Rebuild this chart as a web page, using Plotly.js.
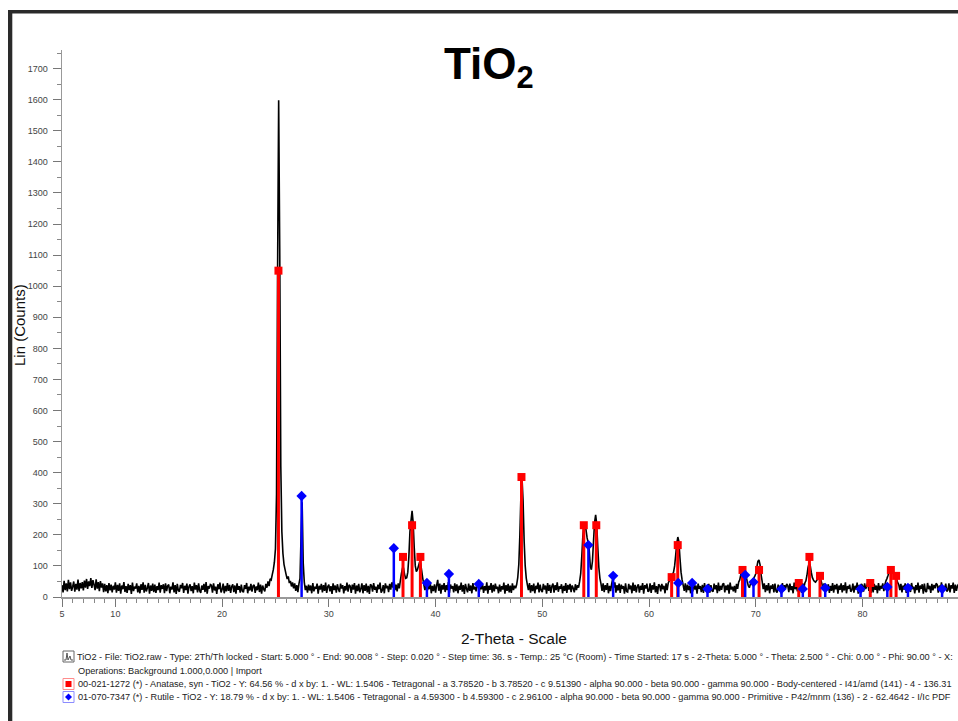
<!DOCTYPE html>
<html>
<head>
<meta charset="utf-8">
<script src="https://cdn.plot.ly/plotly-3.0.1.min.js"></script>
<style>html,body{margin:0;padding:0;background:#fff;}#chart{width:958px;height:721px;}</style>
</head>
<body>
<div id="chart"></div>
<script>
// ---- Data ----
const twoThetaStart = 5.0;   // degrees
const twoThetaStep = 0.1;    // sampling used here
// Lin (Counts), one row per degree (x.0 ... x.9), from 5.0 to 89.1
const counts = [
 38,15,52,22,44,18,55,25,47,20,
 33,50,17,42,24,56,19,45,28,48,
 21,53,30,58,26,50,35,61,29,54,
 40,22,57,27,48,19,51,30,44,16,
 42,18,38,12,45,21,40,15,36,24,
 47,14,39,20,44,11,37,25,48,16,
 35,13,42,22,38,10,46,19,33,27,
 44,15,36,12,41,23,47,14,39,18,
 30,45,11,37,20,43,16,40,13,35,
 22,46,14,38,26,41,12,44,19,36,
 40,12,33,24,47,15,38,10,42,21,
 17,39,28,45,13,36,22,43,11,34,
 41,19,35,12,46,24,38,15,44,20,
 13,37,23,42,16,48,11,35,27,40,
 38,14,44,21,33,10,41,25,46,15,
 24,43,12,36,18,45,20,39,13,34,
 41,16,37,11,44,23,35,14,40,19,
 15,38,26,45,12,33,21,42,17,36,
 39,13,34,22,46,16,40,11,37,25,
 18,42,30,50,35,58,55,72,88,112,
 155,330,1050,1598,1120,420,210,140,105,88,
 72,58,66,45,52,34,47,28,44,20,
 38,16,42,60,200,305,110,48,22,36,
 14,40,21,37,12,45,18,33,26,43,
 11,36,24,42,15,38,20,46,13,34,
 40,18,35,10,44,22,37,14,41,25,
 16,43,27,38,12,35,21,46,17,39,
 35,13,40,24,45,11,37,19,42,15,
 26,44,12,38,20,43,15,36,10,41,
 37,17,45,23,33,13,40,25,46,14,
 21,38,12,44,28,36,16,42,24,47,
 30,58,22,40,18,44,28,52,75,92,
 92,72,60,62,80,130,210,245,277,240,
 160,100,82,88,100,112,108,85,60,40,
 22,44,15,38,25,46,12,36,19,41,
 14,37,55,20,43,11,39,24,45,16,
 38,22,48,13,40,27,35,15,44,19,
 41,12,36,23,46,17,38,10,42,26,
 15,43,20,37,12,45,24,33,18,40,
 44,16,38,25,42,13,35,21,47,11,
 36,23,45,14,39,18,43,26,33,12,
 40,17,35,24,46,11,38,20,42,15,
 37,13,44,22,36,28,40,62,105,200,
 330,383,310,180,100,60,40,22,45,14,
 38,19,43,12,36,25,46,15,40,21,
 16,42,24,37,11,45,20,39,13,35,
 43,14,38,22,47,17,34,26,41,12,
 36,20,45,13,39,24,42,16,37,28,
 15,41,22,38,30,50,75,130,195,230,
 238,215,190,175,150,98,88,115,180,240,
 264,235,160,95,60,42,20,44,16,38,
 23,45,12,36,19,42,58,30,47,14,
 38,21,43,13,40,26,35,11,44,18,
 16,42,25,37,12,46,20,39,15,34,
 41,14,36,23,45,11,38,27,43,17,
 20,44,13,38,24,47,15,35,10,41,
 37,18,42,25,36,12,44,22,45,52,
 58,68,72,80,100,135,172,193,178,125,
 80,55,38,20,44,15,40,22,36,12,
 42,18,48,24,37,11,43,26,35,16,
 39,13,45,21,34,27,42,14,38,20,
 17,43,25,38,12,46,19,36,23,41,
 44,15,37,22,40,11,46,24,33,18,
 36,14,42,26,48,55,72,90,96,88,
 80,66,50,36,30,42,46,55,60,66,
 75,95,115,119,104,72,50,25,44,16,
 38,21,45,12,37,26,41,15,43,19,
 14,40,24,36,11,45,20,38,27,42,
 37,16,43,22,35,12,46,25,39,18,
 41,24,36,13,44,28,45,52,70,95,
 109,102,80,63,55,50,48,53,58,61,
 63,55,42,25,44,16,38,22,41,13,
 36,20,45,14,39,25,42,11,37,23,
 44,15,38,21,47,12,35,26,40,17,
 22,43,14,36,24,46,11,39,19,42,
 37,17,44,26,35,48,20,41,13,38,
 15,42,23,37,12,45,21,36,27,44,
 19,40,52,60,70,82,90,93,88,78,
 70,65,58,46,40,22,42,15,37,24,
 44,13,36,21,40,16,45,25,33,12,
 38,22,46,14,37,26,41,11,43,19,
 16,45,25,36,13,42,21,39,28,44,
 40,14,37,23,47,12,35,26,43,18,
 22,44,15,38,27,46,13,40,20,36,
 41,17
];

// Anatase (00-021-1272) reference lines: 2-theta and displayed height (counts)
const anataseTheta = [25.28, 36.95, 37.80, 38.58, 48.05, 53.89, 55.06, 62.12, 62.69, 68.76, 70.31, 74.03, 75.03, 76.02, 80.73, 82.66, 83.15];
const anataseHeight = [1050, 129, 231, 129, 386, 231, 231, 64, 167, 87, 87, 45, 129, 68, 45, 87, 68];

// Rutile (01-070-7347) reference lines
const rutileTheta = [27.45, 36.09, 39.19, 41.25, 44.05, 54.32, 56.64, 62.74, 64.04, 65.48, 69.01, 69.79, 72.41, 74.41, 76.51, 79.82, 82.33, 84.26, 87.46];
const rutileHeight = [325, 157, 45, 74, 42, 167, 68, 45, 45, 26, 71, 48, 26, 26, 29, 26, 32, 29, 26];

const xTickVals = [5, 10, 20, 30, 40, 50, 60, 70, 80];

const titleText = '<b>TiO<sub>2</sub></b>';
const xTitle = '2-Theta - Scale';
const yTitle = 'Lin (Counts)';
const infoLines = [
  'TiO2 - File: TiO2.raw - Type: 2Th/Th locked - Start: 5.000 ° - End: 90.008 ° - Step: 0.020 ° - Step time: 36. s - Temp.: 25 °C (Room) - Time Started: 17 s - 2-Theta: 5.000 ° - Theta: 2.500 ° - Chi: 0.00 ° - Phi: 90.00 ° - X:',
  'Operations: Background 1.000,0.000 | Import',
  '00-021-1272 (*) - Anatase, syn - TiO2 - Y: 64.56 % - d x by: 1. - WL: 1.5406 - Tetragonal - a 3.78520 - b 3.78520 - c 9.51390 - alpha 90.000 - beta 90.000 - gamma 90.000 - Body-centered - I41/amd (141) - 4 - 136.31',
  '01-070-7347 (*) - Rutile - TiO2 - Y: 18.79 % - d x by: 1. - WL: 1.5406 - Tetragonal - a 4.59300 - b 4.59300 - c 2.96100 - alpha 90.000 - beta 90.000 - gamma 90.000 - Primitive - P42/mnm (136) - 2 - 62.4642 - I/Ic PDF'
];

// ---- Build traces ----
const twoTheta = counts.map((_, i) => +(twoThetaStart + i * twoThetaStep).toFixed(2));

function sticks(xs, hs) {
  const x = [], y = [];
  xs.forEach((v, i) => { x.push(v, v, null); y.push(0, hs[i], null); });
  return {x, y};
}
const aSt = sticks(anataseTheta, anataseHeight);
const rSt = sticks(rutileTheta, rutileHeight);

const RED = 'rgb(255,0,0)';
const BLUE = 'rgb(0,0,255)';

const traces = [
  {x: twoTheta, y: counts, type: 'scatter', mode: 'lines', line: {color: '#000', width: 1.6, simplify: false}, hoverinfo: 'skip', name: 'TiO2'},
  {x: aSt.x, y: aSt.y, type: 'scatter', mode: 'lines', line: {color: RED, width: 3}, hoverinfo: 'skip', name: 'Anatase sticks'},
  {x: rSt.x, y: rSt.y, type: 'scatter', mode: 'lines', line: {color: BLUE, width: 2.5}, hoverinfo: 'skip', name: 'Rutile sticks'},
  {x: anataseTheta, y: anataseHeight, type: 'scatter', mode: 'markers', marker: {symbol: 'square', size: 8, color: RED}, name: 'Anatase'},
  {x: rutileTheta, y: rutileHeight, type: 'scatter', mode: 'markers', marker: {symbol: 'diamond', size: 8, color: BLUE}, name: 'Rutile'}
];

// ---- Layout helpers (pixel -> paper) ----
const L = 62, T = 50, W = 896, H = 547;
const px = v => (v - L) / W;
const py = v => (T + H - v) / H;

const FONT = 'Liberation Sans, Arial, Helvetica, sans-serif';

const annotations = [
  {text: titleText, xref: 'paper', yref: 'paper', x: px(489), y: py(67), xanchor: 'center', yanchor: 'middle', showarrow: false, font: {family: FONT, size: 44, color: '#000'}},
  {text: yTitle, xref: 'paper', yref: 'paper', x: px(19), y: py(325), xanchor: 'center', yanchor: 'middle', textangle: -90, showarrow: false, font: {family: FONT, size: 15, color: '#111'}},
  {text: xTitle, xref: 'paper', yref: 'paper', x: px(514), y: py(638), xanchor: 'center', yanchor: 'middle', showarrow: false, font: {family: FONT, size: 15.5, color: '#111'}}
];
const lineY = [657, 671, 684, 697];
const lineX = [75, 76, 76, 76];
infoLines.forEach((t, i) => annotations.push({
  text: t, xref: 'paper', yref: 'paper', x: px(lineX[i]), y: py(lineY[i]), xanchor: 'left', yanchor: 'middle',
  showarrow: false, font: {family: FONT, size: 9.2, color: '#222'}
}));

const shapes = [
  // page frame
  {type: 'rect', xref: 'paper', yref: 'paper', x0: px(8), x1: px(960), y0: py(10), y1: py(13.5), fillcolor: '#2a2a2a', line: {width: 0}},
  {type: 'rect', xref: 'paper', yref: 'paper', x0: px(8), x1: px(12.3), y0: py(10), y1: py(723), fillcolor: '#2a2a2a', line: {width: 0}},
  // scan icon
  {type: 'rect', xref: 'paper', yref: 'paper', x0: px(63), x1: px(74), y0: py(651), y1: py(662), fillcolor: 'rgba(0,0,0,0)', line: {color: '#666', width: 1}},
  {type: 'path', xref: 'paper', yref: 'paper', path: `M ${px(64)} ${py(660)} L ${px(66)} ${py(660)} L ${px(67)} ${py(653)} L ${px(68)} ${py(660)} L ${px(70)} ${py(656)} L ${px(71)} ${py(660)} L ${px(73)} ${py(660)}`, line: {color: '#555', width: 1}},
  // anatase icon
  {type: 'rect', xref: 'paper', yref: 'paper', x0: px(63), x1: px(74), y0: py(678.5), y1: py(689.5), fillcolor: 'rgba(0,0,0,0)', line: {color: 'rgb(255,140,140)', width: 1}},
  {type: 'rect', xref: 'paper', yref: 'paper', x0: px(65.5), x1: px(71.5), y0: py(681), y1: py(687), fillcolor: RED, line: {width: 0}},
  // rutile icon
  {type: 'rect', xref: 'paper', yref: 'paper', x0: px(63), x1: px(74), y0: py(691.5), y1: py(702.5), fillcolor: 'rgba(0,0,0,0)', line: {color: 'rgb(140,140,255)', width: 1}},
  {type: 'path', xref: 'paper', yref: 'paper', path: `M ${px(68.5)} ${py(693.5)} L ${px(72)} ${py(697)} L ${px(68.5)} ${py(700.5)} L ${px(65)} ${py(697)} Z`, fillcolor: BLUE, line: {width: 0}}
];

const layout = {
  width: 958, height: 721,
  margin: {l: L, r: 958 - L - W, t: T, b: 721 - T - H, pad: 0},
  paper_bgcolor: '#fff', plot_bgcolor: '#fff',
  showlegend: false,
  xaxis: {
    range: [5, 88.95], tickmode: 'array', tickvals: xTickVals, ticktext: xTickVals.map(String),
    ticks: 'outside', ticklen: 8, tickwidth: 1, tickcolor: '#777',
    showline: true, linecolor: '#999', linewidth: 1.5,
    showgrid: false, zeroline: false,
    tickfont: {family: FONT, size: 9, color: '#444'},
    minor: {tickmode: 'linear', tick0: 5, dtick: 1, ticks: 'outside', ticklen: 4, tickcolor: '#888', showgrid: false}
  },
  yaxis: {
    range: [0, 1760], tickmode: 'linear', tick0: 0, dtick: 100,
    ticks: 'outside', ticklen: 8, tickwidth: 1, tickcolor: '#777',
    ticklabelstandoff: 3,
    showline: true, linecolor: '#999', linewidth: 1.5,
    showgrid: false, zeroline: false,
    tickfont: {family: FONT, size: 9, color: '#444'},
    minor: {tickmode: 'linear', tick0: 0, dtick: 50, ticks: 'outside', ticklen: 4, tickcolor: '#888', showgrid: false}
  },
  annotations, shapes
};

Plotly.newPlot('chart', traces, layout, {displayModeBar: false, staticPlot: true});
</script>
</body>
</html>
